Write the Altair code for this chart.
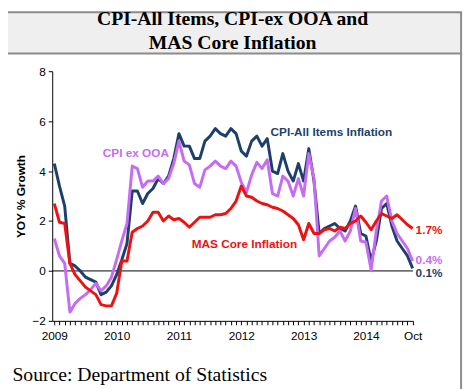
import altair as alt
import pandas as pd

# Monthly YoY % growth, Jan 2009 .. Oct 2014
cpi_all = [4.3, 3.4, 2.6, 0.3, 0.2, 0.0, -0.25, -0.35, -0.45, -0.95, -0.85, -0.6,
           -0.15, 0.45, 1.1, 3.2, 3.2, 2.7, 3.1, 3.3, 3.7, 3.5, 3.8, 4.5,
           5.5, 5.0, 5.0, 4.5, 4.5, 5.2, 5.4, 5.7, 5.5, 5.4, 5.7, 5.5,
           4.8, 4.6, 5.2, 5.4, 5.0, 5.3, 4.0, 3.9, 4.7, 4.0, 3.6, 4.3,
           3.6, 4.9, 3.6, 1.5, 1.7, 1.8, 1.9, 1.7, 1.6, 2.0, 2.6, 1.5,
           1.4, 0.4, 1.2, 2.5, 2.7, 1.8, 1.2, 0.9, 0.6, 0.1]
cpi_ex_ooa = [1.3, 0.6, 0.3, -1.65, -1.3, -1.1, -0.95, -0.75, -0.5, -0.8, -0.6, -0.25,
              0.45, 1.2, 1.9, 4.2, 4.1, 3.35, 3.6, 3.6, 3.8, 3.5, 3.7, 4.3,
              5.2, 4.4, 4.25, 3.5, 3.35, 4.05, 4.2, 4.4, 4.2, 4.1, 4.4, 4.2,
              3.55, 3.15, 3.85, 4.35, 4.1, 4.45, 3.1, 3.0, 3.8, 3.6, 3.0, 3.7,
              3.0, 4.7, 3.7, 0.6, 0.9, 1.2, 1.35, 1.6, 1.2, 1.6, 2.5, 1.2,
              1.15, 0.05, 1.6, 2.8, 3.0, 2.0, 1.5, 1.2, 0.9, 0.4]
mas_core = [2.7, 1.95, 1.9, 0.3, -0.15, -0.4, -0.65, -0.8, -0.95, -1.35, -1.4, -1.4,
            -0.9, 0.4, 0.4, 1.55, 1.7, 1.8, 2.0, 2.35, 2.35, 2.0, 2.2, 2.05,
            2.1, 1.95, 1.75, 1.95, 2.15, 2.15, 2.15, 2.25, 2.25, 2.3, 2.5, 2.8,
            3.4, 3.0, 2.95, 2.8, 2.7, 2.65, 2.55, 2.5, 2.4, 2.25, 2.1, 1.85,
            1.25, 1.9, 1.5, 1.5, 1.65, 1.7, 1.6, 1.75, 1.7, 1.9, 2.0, 2.2,
            1.95, 1.65, 2.0, 2.3, 2.2, 2.1, 2.25, 2.05, 1.85, 1.7]

series_names = ["CPI-All Items Inflation", "CPI ex OOA", "MAS Core Inflation"]
series_colors = ["#1e3f6c", "#c66cf2", "#ee1111"]
series_values = [cpi_all, cpi_ex_ooa, mas_core]

# Series name annotations (month index, value)
name_text = ["CPI-All Items Inflation", "CPI ex OOA", "MAS Core Inflation"]
name_m = [53.35, 15.7, 36.6]
name_v = [5.57, 4.72, 1.06]
name_color = ["#1e3f6c", "#c66cf2", "#ee1111"]

# End-value annotations
end_text = ["1.7%", "0.4%", "0.1%"]
end_m = [69.0, 69.0, 69.0]
end_v = [1.62, 0.42, -0.07]
end_color = ["#ee1111", "#c66cf2", "#1e3f6c"]

y_ticks = [-2, 0, 2, 4, 6, 8]
year_start = 2009
last_label = "Oct"

n = len(cpi_all)
x_scale = alt.Scale(domain=[-0.4, n - 1 + 0.05], nice=False, zero=False)
y_scale = alt.Scale(domain=[-2, 8], nice=False, zero=False)

x_axis = alt.Axis(
    values=list(range(n)),
    labelExpr=f"datum.value == {n-1} ? '{last_label}' : (datum.value % 12 == 0 ? '' + ({year_start} + datum.value / 12) : '')",
    labelFlush=False, labelOverlap=False, grid=False,
    tickSize=4, labelFontSize=12, labelPadding=6, labelColor="#000",
    domainColor="#000", tickColor="#000",
    title="Source: Department of Statistics", titleFont="Liberation Serif",
    titleFontSize=20, titleFontWeight="normal", titleColor="#000",
    titleAnchor="start", titleAlign="left", titleBaseline="alphabetic",
    titleX=-41, titleY=61,
)
y_axis = alt.Axis(
    values=y_ticks, grid=False, tickSize=4, labelFontSize=12, labelColor="#000",
    domainColor="#000", tickColor="#000", labelPadding=3,
    title="YOY % Growth", titleFontSize=12, titleFontWeight="bold", titleColor="#000",
    titlePadding=5,
)

# decorative title band & frame
deco = pd.DataFrame({"k": [0]})
band = alt.Chart(deco).mark_rect(fill="#efefef", stroke="#8c8c8c", strokeWidth=2).encode(
    x=alt.value(-70), x2=alt.value(416), y=alt.value(-60), y2=alt.value(-18))
right_border = alt.Chart(deco).mark_rule(color="#8c8c8c", strokeWidth=2).encode(
    x=alt.value(416), y=alt.value(-18), y2=alt.value(330))

zero_df = pd.DataFrame({"v": [0]})
zero_line = alt.Chart(zero_df).mark_rule(color="#000", strokeWidth=1).encode(
    y=alt.Y("v:Q", scale=y_scale, axis=y_axis))

layers = [band, right_border, zero_line]
for name, color, vals in zip(series_names, series_colors, series_values):
    df = pd.DataFrame({"m": list(range(len(vals))), "v": vals})
    layers.append(
        alt.Chart(df).mark_line(color=color, strokeWidth=3, strokeJoin="round").encode(
            x=alt.X("m:Q", scale=x_scale, axis=x_axis),
            y=alt.Y("v:Q", scale=y_scale, axis=y_axis),
        )
    )

names_df = pd.DataFrame({"m": name_m, "v": name_v, "t": name_text, "c": name_color})
layers.append(
    alt.Chart(names_df).mark_text(fontWeight="bold", fontSize=12, align="center", baseline="middle").encode(
        x=alt.X("m:Q", scale=x_scale, axis=x_axis),
        y=alt.Y("v:Q", scale=y_scale, axis=y_axis),
        text="t:N", color=alt.Color("c:N", scale=None),
    )
)
end_df = pd.DataFrame({"m": end_m, "v": end_v, "t": end_text, "c": end_color})
layers.append(
    alt.Chart(end_df).mark_text(fontWeight="bold", fontSize=12, align="left", baseline="middle", dx=3).encode(
        x=alt.X("m:Q", scale=x_scale, axis=x_axis),
        y=alt.Y("v:Q", scale=y_scale, axis=y_axis),
        text="t:N", color=alt.Color("c:N", scale=None),
    )
)

chart = alt.layer(*layers).properties(
    width=367, height=254,
    autosize=alt.AutoSizeParams(type="none"),
    padding={"left": 45, "top": 61, "right": 54, "bottom": 66},
    title=alt.TitleParams(
        text=["CPI-All Items, CPI-ex OOA and", "MAS Core Inflation"],
        font="Liberation Serif", fontSize=20, fontWeight="bold", color="#000",
        lineHeight=24, anchor="middle", offset=0, dy=42,
    ),
).configure(font="Liberation Sans").configure_view(stroke=None)

chart.save("out.html", embed_options={"renderer": "svg", "actions": False})
